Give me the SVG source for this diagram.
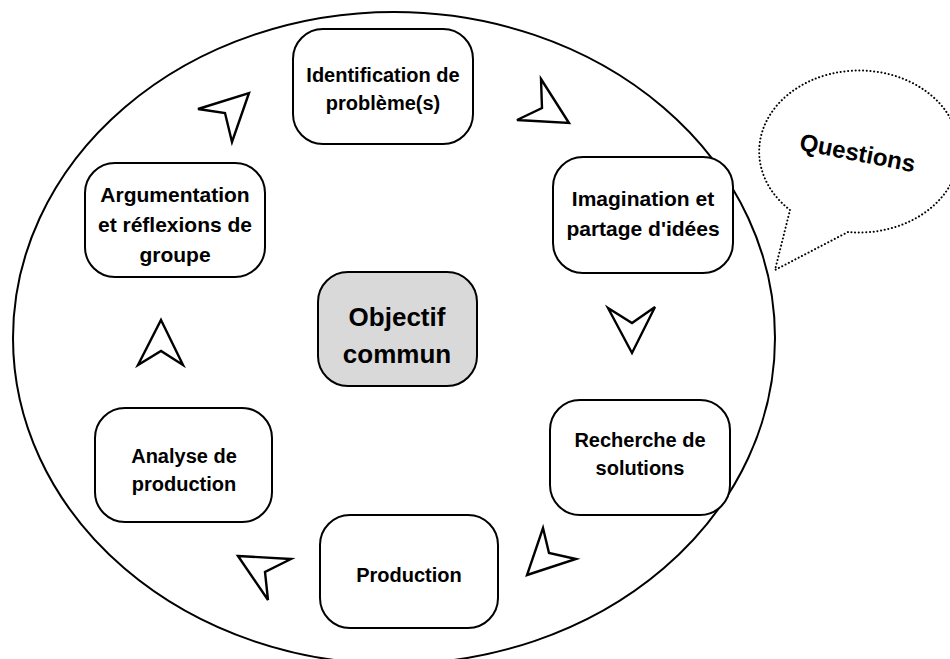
<svg xmlns="http://www.w3.org/2000/svg" width="950" height="659" viewBox="0 0 950 659">
  <style>
    .node { fill: #ffffff; stroke: #000000; stroke-width: 2; }
    .core { fill: #d9d9d9; stroke: #000000; stroke-width: 2; }
    .label { font-family: "Liberation Sans", Arial, sans-serif; font-weight: bold; font-size: 20px; fill: #000000; text-anchor: middle; }
    .wide { font-size: 21px; }
    .big { font-size: 26px; }
    .callout { font-size: 24px; }
    .nav { fill: #ffffff; stroke: #000000; stroke-width: 2.4; stroke-linejoin: miter; }
    .bubble { fill: #ffffff; stroke: #000000; stroke-width: 2; stroke-dasharray: 0.1 3.6; stroke-linecap: round; }
  </style>

  <rect width="950" height="659" fill="#ffffff"/>

  <!-- speech bubble -->
  <g id="questions">
    <path class="bubble" d="M790,210 A100,81 0 1 1 848,232 L775,270 Z"/>
    <text class="label callout" x="0" y="0" transform="translate(856,161) rotate(11)">Questions</text>
  </g>

  <!-- outer cycle boundary -->
  <ellipse cx="394" cy="338" rx="381" ry="326" fill="none" stroke="#000000" stroke-width="2"/>

  <g id="identification">
    <rect class="node" x="293" y="29" width="180" height="115" rx="30"/>
    <text class="label" x="383" y="82">Identification de</text>
    <text class="label" x="383" y="110">problème(s)</text>
  </g>

  <g id="imagination">
    <rect class="node" x="553" y="157" width="180" height="116" rx="30"/>
    <text class="label wide" x="643" y="206">Imagination et</text>
    <text class="label wide" x="643" y="236">partage d'idées</text>
  </g>

  <g id="recherche">
    <rect class="node" x="550" y="400" width="180" height="115" rx="30"/>
    <text class="label" x="640" y="447">Recherche de</text>
    <text class="label" x="640" y="475">solutions</text>
  </g>

  <g id="production">
    <rect class="node" x="320" y="515" width="178" height="113" rx="30"/>
    <text class="label" x="409" y="582">Production</text>
  </g>

  <g id="analyse">
    <rect class="node" x="95" y="408" width="177" height="114" rx="30"/>
    <text class="label" x="184" y="463">Analyse de</text>
    <text class="label" x="184" y="491">production</text>
  </g>

  <g id="argumentation">
    <rect class="node" x="85" y="163" width="180" height="114" rx="30"/>
    <text class="label wide" x="175" y="202">Argumentation</text>
    <text class="label wide" x="175" y="232">et réflexions de</text>
    <text class="label wide" x="175" y="262">groupe</text>
  </g>

  <g id="objectif">
    <rect class="core" x="318" y="272" width="159" height="114" rx="30"/>
    <text class="label big" x="397" y="326">Objectif</text>
    <text class="label big" x="397" y="363">commun</text>
  </g>

  <!-- direction markers between stages -->
  <g id="connectors">
    <polygon class="nav" points="198,109 249,93 232,142 225,113"/>
    <polygon class="nav" points="541,79 569,123 517,120 542,108"/>
    <polygon class="nav" points="608,308 632,323 655,307 632,353"/>
    <polygon class="nav" points="543,528 549,553 576,559 527,575"/>
    <polygon class="nav" points="238,556 291,559 265,572 268,600"/>
    <polygon class="nav" points="161,320 183,365 161,351 138,365"/>
  </g>
</svg>
